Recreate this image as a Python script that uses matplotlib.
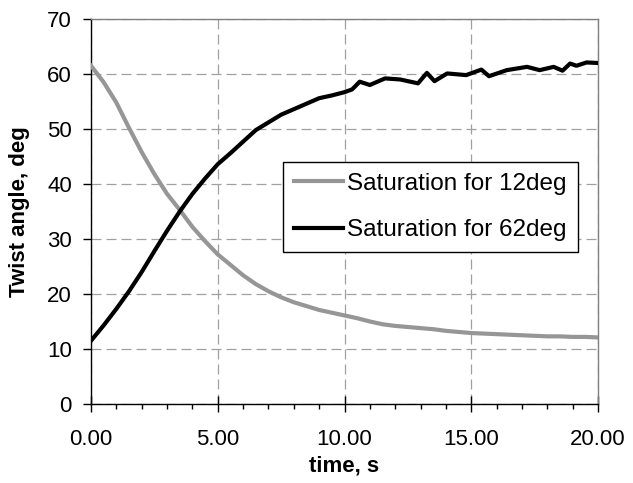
import numpy as np
import matplotlib
matplotlib.use('Agg')
import matplotlib.pyplot as plt
from matplotlib.ticker import MultipleLocator, FormatStrFormatter

plt.rcParams['font.family'] = ['Liberation Sans', 'DejaVu Sans']

# ── data ─────────────────────────────────────────────────────────────────────
t_12 = [0.0, 0.5, 1.0, 1.5, 2.0, 2.5, 3.0, 3.5, 4.0, 4.5, 5.0, 5.5, 6.0, 6.5,
        7.0, 7.5, 8.0, 8.5, 9.0, 9.5, 10.0, 10.5, 11.0, 11.5, 12.0, 12.5,
        13.0, 13.5, 14.0, 14.5, 15.0, 15.5, 16.0, 16.5, 17.0, 17.5, 18.0,
        18.5, 19.0, 19.5, 20.0]
ang_12 = [61.5, 58.5, 54.8, 50.2, 45.8, 41.8, 38.2, 35.3, 32.2, 29.6, 27.2,
          25.3, 23.4, 21.8, 20.5, 19.4, 18.5, 17.8, 17.1, 16.6, 16.1, 15.6,
          15.0, 14.5, 14.2, 14.0, 13.8, 13.6, 13.3, 13.1, 12.9, 12.8, 12.7,
          12.6, 12.5, 12.4, 12.3, 12.3, 12.2, 12.2, 12.1]

t_62 = [0.0, 0.5, 1.0, 1.5, 2.0, 2.5, 3.0, 3.5, 4.0, 4.5, 5.0, 5.5, 6.0, 6.5,
        7.0, 7.5, 8.0, 8.5, 9.0, 9.5, 10.0, 10.3, 10.6, 11.0, 11.6, 12.2,
        12.9, 13.25, 13.55, 14.05, 14.8, 15.4, 15.7, 16.4, 17.2, 17.7, 18.25,
        18.6, 18.9, 19.15, 19.55, 20.0]
ang_62 = [11.5, 14.3, 17.3, 20.5, 24.0, 27.8, 31.5, 35.0, 38.2, 41.0, 43.6,
          45.6, 47.7, 49.8, 51.2, 52.6, 53.6, 54.6, 55.6, 56.1, 56.7, 57.2,
          58.6, 58.0, 59.2, 59.0, 58.3, 60.2, 58.7, 60.1, 59.8, 60.8, 59.6,
          60.7, 61.3, 60.7, 61.3, 60.6, 61.9, 61.5, 62.1, 62.0]

labels = ['Saturation for 12deg', 'Saturation for 62deg']
colors = ['#969696', '#000000']

FS = 16

# ── figure ───────────────────────────────────────────────────────────────────
fig = plt.figure(figsize=(6.33, 4.83), dpi=100)
ax = fig.add_axes([91/633, 79/483, 507/633, 385/483])

ax.plot(t_12, ang_12, color=colors[0], lw=3.0, label=labels[0], zorder=3)
ax.plot(t_62, ang_62, color=colors[1], lw=3.0, label=labels[1], zorder=4)

ax.set_xlim(0, 20); ax.set_ylim(0, 70)
ax.xaxis.set_major_locator(MultipleLocator(5))
ax.xaxis.set_minor_locator(MultipleLocator(1))
ax.yaxis.set_major_locator(MultipleLocator(10))
ax.xaxis.set_major_formatter(FormatStrFormatter('%.2f'))

ax.grid(True, which='major', color='#a0a0a0', ls=(0, (8, 4)), lw=0.9)
ax.set_axisbelow(True)

for s in ['top', 'right']:
    ax.spines[s].set_color('#808080'); ax.spines[s].set_linewidth(1.0)
for s in ['left', 'bottom']:
    ax.spines[s].set_color('black'); ax.spines[s].set_linewidth(1.0)

ax.tick_params(axis='x', which='major', direction='inout', length=11.5,
               width=1, labelsize=FS, pad=12)
ax.tick_params(axis='x', which='minor', direction='out', length=3.6, width=1)
ax.tick_params(axis='y', which='major', direction='out', length=5.8,
               width=1, labelsize=FS, pad=8)

ax.set_xlabel('time, s', fontsize=FS, fontweight='bold', labelpad=4)
ax.set_ylabel('Twist angle, deg', fontsize=FS, fontweight='bold', labelpad=12)

leg = ax.legend(loc='upper left', bbox_to_anchor=(283/633, 1 - 162/483),
                bbox_transform=fig.transFigure, fontsize=17.5, frameon=True,
                fancybox=False, framealpha=1, edgecolor='black',
                handlelength=2.0, handletextpad=0.2, labelspacing=1.0,
                borderpad=0.45, borderaxespad=0)
leg.get_frame().set_linewidth(1.0)

plt.savefig('out.png', dpi=100)
